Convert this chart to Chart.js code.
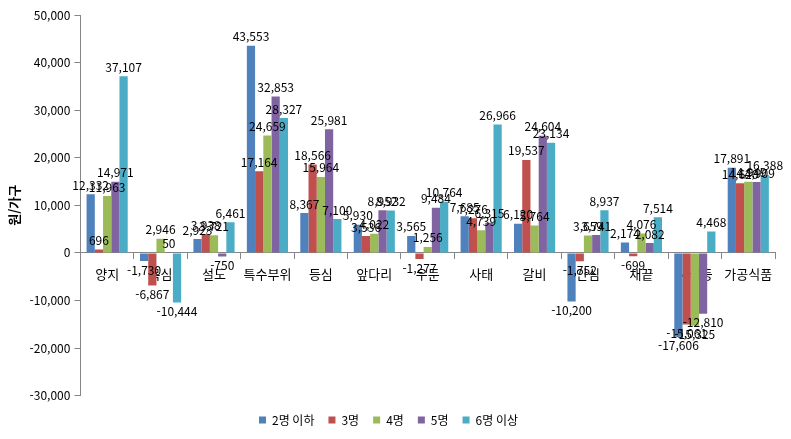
<!DOCTYPE html>
<html lang="ko">
<head>
<meta charset="utf-8">
<title>가구원수별 부위별 구매액 차이</title>
<script src="https://cdn.jsdelivr.net/npm/chart.js@4.4.1/dist/chart.umd.min.js"></script>
<style>
    html, body { margin: 0; padding: 0; background: #ffffff; }
    #wrap { width: 791px; height: 439px; position: relative; }
</style>
</head>
<body>
<div id="wrap"><canvas id="grafico"></canvas></div>
<script>
// 부위 (카테고리)
const categorias = ['양지', '목심', '설도', '특수부위', '등심', '앞다리', '우둔', '사태', '갈비', '안심', '채끝', '사골등', '가공식품'];

// 가구원수별 값 (원/가구)
const ate2 = [12332, -1730, 2923, 43553, 8367, 5930, 3565, 7685, 6120, -10200, 2174, -17606, 17891];
const pessoas3 = [696, -6867, 3938, 17164, 18566, 3536, -1277, 7276, 19537, -1752, -699, -15061, 14620];
const pessoas4 = [11963, 2946, 3721, 24659, 15964, 4022, 1256, 4739, 5764, 3659, 4076, -15325, 14949];
const pessoas5 = [14971, 50, -750, 32853, 25981, 8952, 9484, 6315, 24604, 3741, 2082, -12810, 14909];
const mais6 = [37107, -10444, 6461, 28327, 7100, 8932, 10764, 26966, 23134, 8937, 7514, 4468, 16388];

const nomesSeries = ['2명 이하', '3명', '4명', '5명', '6명 이상'];
const valoresSeries = [ate2, pessoas3, pessoas4, pessoas5, mais6];
const cores = ['#4F81BD', '#C0504D', '#9BBB59', '#8064A2', '#4BACC6'];

// eixo y
const eixoMin = -30000;
const eixoMax = 50000;
const eixoPasso = 10000;

const fonte = "'Noto Sans CJK KR', 'Noto Sans', sans-serif";

function formatarNumero(v) {
    return v.toLocaleString('en-US');
}

// rótulos de valor em cima/embaixo de cada barra
const rotulosPlugin = {
    id: 'rotulos',
    afterDatasetsDraw(chart) {
        const ctx = chart.ctx;
        ctx.save();
        ctx.font = '12px ' + fonte;
        ctx.fillStyle = '#000000';
        ctx.textAlign = 'center';
        chart.data.datasets.forEach((ds, i) => {
            const meta = chart.getDatasetMeta(i);
            meta.data.forEach((bar, j) => {
                const v = ds.data[j];
                if (v >= 0) {
                    ctx.textBaseline = 'bottom';
                    ctx.fillText(formatarNumero(v), bar.x, bar.y - 3);
                } else {
                    ctx.textBaseline = 'top';
                    ctx.fillText(formatarNumero(v), bar.x, bar.y + 3);
                }
            });
        });
        ctx.restore();
    }
};

const datasets = nomesSeries.map((nome, i) => ({
    label: nome,
    data: valoresSeries[i],
    backgroundColor: cores[i],
    borderWidth: 0,
    categoryPercentage: 0.77,
    barPercentage: 1.0
}));

new Chart(document.getElementById('grafico'), {
    type: 'bar',
    data: { labels: categorias, datasets: datasets },
    plugins: [rotulosPlugin],
    options: {
        responsive: true,
        maintainAspectRatio: false,
        animation: false,
        layout: { padding: { top: 15, right: 16, bottom: 3, left: 2 } },
        plugins: {
            tooltip: { enabled: false },
            legend: {
                position: 'bottom',
                // título vazio só para afastar a legenda do gráfico
                title: { display: true, text: ' ', font: { size: 2 }, padding: { top: 0, bottom: 2 } },
                labels: {
                    boxWidth: 7,
                    boxHeight: 7,
                    padding: 14,
                    color: '#000000',
                    font: { family: fonte, size: 12 }
                }
            }
        },
        scales: {
            x: {
                position: { y: 0 },
                grid: { drawOnChartArea: false, offset: true, tickLength: 6, color: '#868686' },
                border: { display: true, color: '#868686' },
                ticks: {
                    color: '#000000',
                    font: { family: fonte, size: 13 },
                    padding: 7,
                    autoSkip: false,
                    maxRotation: 0,
                    minRotation: 0
                }
            },
            y: {
                min: eixoMin,
                max: eixoMax,
                grid: { drawOnChartArea: false, tickLength: 6, color: '#868686' },
                border: { display: true, color: '#868686' },
                ticks: {
                    stepSize: eixoPasso,
                    color: '#000000',
                    font: { family: fonte, size: 12 },
                    padding: 4,
                    callback: function(value) { return formatarNumero(value); }
                },
                title: {
                    display: true,
                    text: '원/가구',
                    color: '#000000',
                    font: { family: fonte, size: 13, weight: 'bold' }
                }
            }
        }
    }
});
</script>
</body>
</html>
